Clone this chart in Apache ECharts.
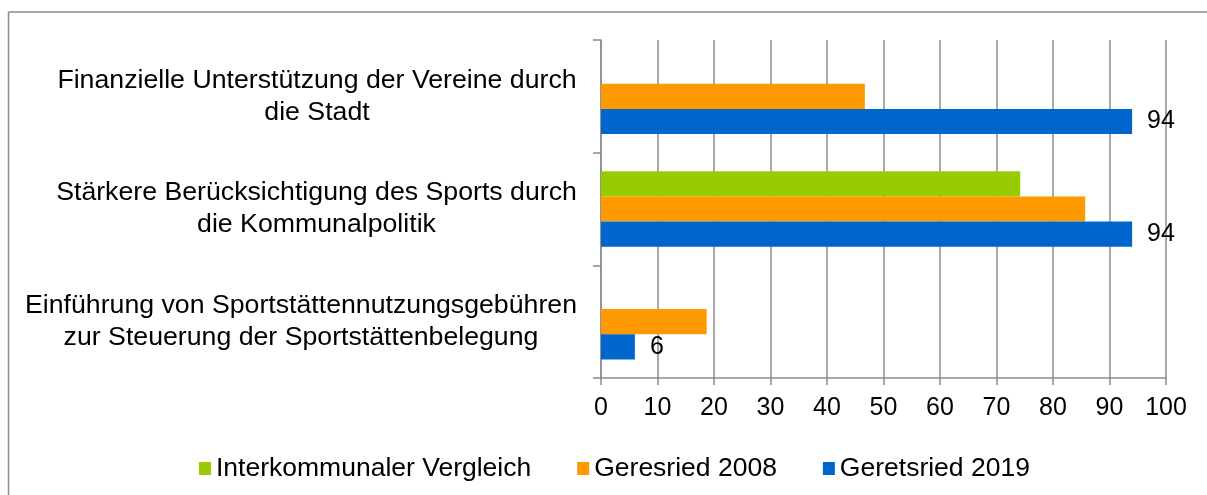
<!DOCTYPE html>
<html>
<head>
<meta charset="utf-8">
<script src="https://cdn.jsdelivr.net/npm/echarts@6/dist/echarts.min.js"></script>
<style>
  html, body { margin: 0; padding: 0; background: #fff; }
  #chart { width: 1207px; height: 495px; }
</style>
</head>
<body>
<div id="chart"></div>
<script>
  var categories = [
    'Finanzielle Unterstützung der Vereine durch\ndie Stadt',
    'Stärkere Berücksichtigung des Sports durch\ndie Kommunalpolitik',
    'Einführung von Sportstättennutzungsgebühren\nzur Steuerung der Sportstättenbelegung'
  ]
  var seriesNames = ['Interkommunaler Vergleich', 'Geresried 2008', 'Geretsried 2019']
  var interkommunal = ['-', 74.2, '-']
  var geresried2008 = [46.7, 85.7, 18.7]
  var geretsried2019 = [94, 94, 6]
  var xTicks = [0, 100, 10]  // min, max, interval

  var font = '"Liberation Sans", Arial, sans-serif'
  var gray = '#8c8c8c'
  var catSize = 26.7

  // width of the longest line of each category label, so lines can be centred
  var ctx = document.createElement('canvas').getContext('2d')
  ctx.font = catSize + 'px ' + font
  var labelWidths = categories.map(function(c) {
    return Math.max.apply(null, c.split('\n').map(function(l) { return ctx.measureText(l).width }))
  })
  var rich = {}
  labelWidths.forEach(function(w, i) {
    rich['c' + i] = { width: Math.ceil(w), align: 'center', fontSize: catSize, lineHeight: 32, fontFamily: font, color: '#000' }
  })

  var chart = echarts.init(document.getElementById('chart'), null, { renderer: 'canvas' })

  var option = {
    animation: false,
    color: ['#99cc00', '#ff9900', '#0066cc'],
    graphic: [
      { type: 'line', shape: { x1: 8.5, y1: 12, x2: 1207, y2: 12 }, style: { stroke: gray, lineWidth: 1.5 } },
      { type: 'line', shape: { x1: 8.5, y1: 12, x2: 8.5, y2: 495 }, style: { stroke: gray, lineWidth: 1.5 } }
    ],
    grid: { left: 601, right: 41, top: 40, bottom: 117 },
    legend: {
      left: 194,
      top: 450,
      icon: 'rect',
      itemWidth: 12,
      itemHeight: 13,
      itemGap: 46,
      data: seriesNames,
      textStyle: { fontSize: 26.5, fontFamily: font, color: '#000' }
    },
    xAxis: {
      type: 'value',
      min: xTicks[0],
      max: xTicks[1],
      interval: xTicks[2],
      axisLine: { show: true, lineStyle: { color: gray, width: 1.5 } },
      axisTick: { show: true, length: 7, lineStyle: { color: gray, width: 1.5 } },
      splitLine: { show: true, lineStyle: { color: gray, width: 1.5 } },
      axisLabel: { fontSize: 25, fontFamily: font, color: '#000', margin: 18 }
    },
    yAxis: {
      type: 'category',
      inverse: true,
      data: categories,
      axisLine: { show: true, lineStyle: { color: gray, width: 1.5 } },
      axisTick: { show: true, length: 8, lineStyle: { color: gray, width: 1.5 } },
      axisLabel: {
        margin: 24,
        formatter: function(value, idx) {
          return value.split('\n').map(function(l) { return '{c' + idx + '|' + l + '}' }).join('\n')
        },
        rich: rich
      }
    },
    series: [
      { name: seriesNames[0], type: 'bar', data: interkommunal, barGap: 0, barCategoryGap: '33%' },
      { name: seriesNames[1], type: 'bar', data: geresried2008, barGap: 0, barCategoryGap: '33%' },
      {
        name: seriesNames[2], type: 'bar', data: geretsried2019, barGap: 0, barCategoryGap: '33%',
        label: { show: true, position: 'right', distance: 15, fontSize: 25, fontFamily: font, color: '#000' }
      }
    ]
  }

  chart.setOption(option)
</script>
</body>
</html>
